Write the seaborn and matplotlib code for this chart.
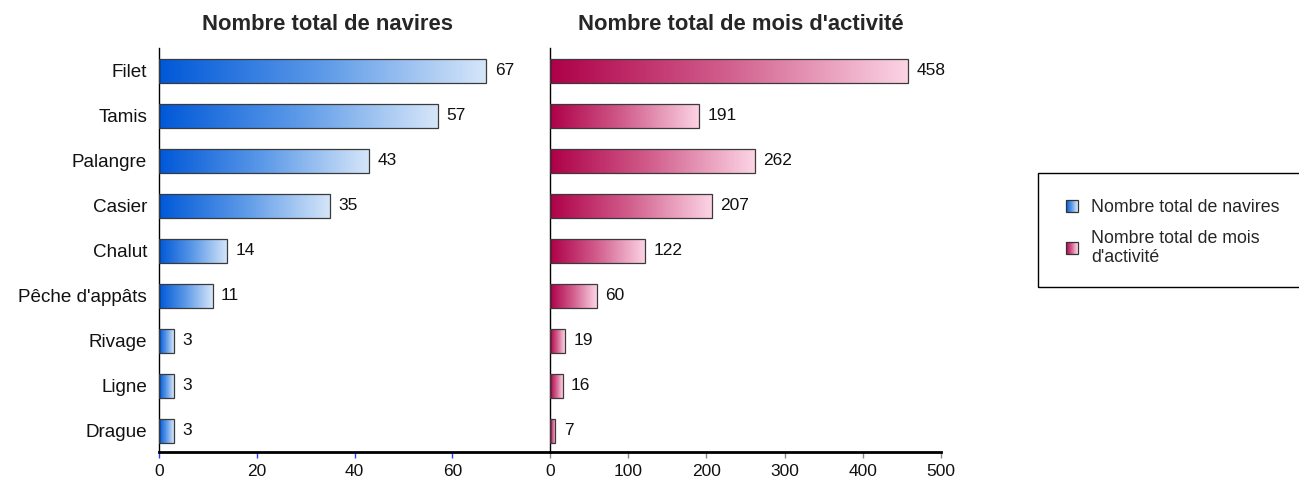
import numpy as np
import pandas as pd
import matplotlib
matplotlib.use("Agg")
import matplotlib.pyplot as plt
import seaborn as sns
from matplotlib.colors import LinearSegmentedColormap
from matplotlib.legend_handler import HandlerBase
from matplotlib.patches import Rectangle, Patch

# Data
engins = ["Filet", "Tamis", "Palangre", "Casier", "Chalut", "Pêche d'appâts",
          "Rivage", "Ligne", "Drague"]
navires = [67, 57, 43, 35, 14, 11, 3, 3, 3]
mois_activite = [458, 191, 262, 207, 122, 60, 19, 16, 7]

title_navires = "Nombre total de navires"
title_mois = "Nombre total de mois d'activité"

sns.set_theme(style="white")
plt.rcParams["font.family"] = ["Liberation Sans", "DejaVu Sans"]

cmap_blue = LinearSegmentedColormap.from_list(
    "bleu", ["#0058d8", "#5d9ae8", "#d6e6f9"])
cmap_pink = LinearSegmentedColormap.from_list(
    "rose", ["#ae0048", "#d2608e", "#fcd4e4"])

df = pd.DataFrame({"engin": engins, "navires": navires, "mois": mois_activite})

W, H = 1299, 483
fig = plt.figure(figsize=(W / 100, H / 100), dpi=100)
ax1 = fig.add_axes([159 / W, 31 / H, 391 / W, 404 / H])
ax2 = fig.add_axes([550 / W, 31 / H, 391 / W, 404 / H])

grad = np.linspace(0, 1, 256).reshape(1, -1)


def gradient_bars(ax, col, cmap, xmax, ticks, tick_color):
    sns.barplot(data=df, x=col, y="engin", ax=ax, orient="h", width=0.52,
                color="white", saturation=1)
    for p in ax.patches:
        x0, y0, w, h = p.get_x(), p.get_y(), p.get_width(), p.get_height()
        im = ax.imshow(grad, extent=[x0, x0 + w, y0 + h, y0], aspect="auto",
                       cmap=cmap, zorder=2, interpolation="bilinear")
        im.set_clip_path(p)
        p.set_facecolor("none")
        p.set_edgecolor("#3a3a3a")
        p.set_linewidth(0.9)
        p.set_zorder(3)
    ax.bar_label(ax.containers[0], padding=6, fontsize=12.5, color="#111111")
    ax.set_xlim(0, xmax)
    ax.set_ylim(8.47, -0.51)
    ax.set_xticks(ticks)
    ax.set_xlabel("")
    ax.set_ylabel("")
    for s in ["top", "right"]:
        ax.spines[s].set_visible(False)
    ax.spines["left"].set_color("black")
    ax.spines["left"].set_linewidth(1.0)
    ax.spines["bottom"].set_color("black")
    ax.spines["bottom"].set_linewidth(2.0)
    ax.tick_params(axis="x", bottom=True, length=4, width=1, color=tick_color,
                   labelsize=12.5, pad=5, labelcolor="#111111")
    ax.tick_params(axis="y", left=False, length=0, pad=8.5, labelsize=13.6,
                   labelcolor="#111111")


gradient_bars(ax1, "navires", cmap_blue, 80, [0, 20, 40, 60], "#2a3cff")
gradient_bars(ax2, "mois", cmap_pink, 500, [0, 100, 200, 300, 400, 500], "#888888")
ax2.set_yticklabels([])

fig.text(327 / W, 1 - 25 / H, title_navires, ha="center", va="center",
         fontsize=15.8, fontweight="bold")
fig.text(741 / W, 1 - 25 / H, title_mois, ha="center", va="center",
         fontsize=15.8, fontweight="bold")


class GradientHandler(HandlerBase):
    def __init__(self, cmap):
        super().__init__()
        self.cmap = cmap

    def create_artists(self, legend, orig_handle, xdescent, ydescent, width,
                       height, fontsize, trans):
        n = 24
        size = height
        x0, y0 = -xdescent, -ydescent
        arts = []
        for i in range(n):
            arts.append(Rectangle((x0 + i * size / n, y0), size / n, size,
                                  facecolor=self.cmap(i / (n - 1)),
                                  edgecolor="none", transform=trans))
        arts.append(Rectangle((x0, y0), size, size, fill=False,
                              edgecolor="#333333", linewidth=0.9,
                              transform=trans))
        return arts


h1 = Patch(label=title_navires)
h2 = Patch(label="Nombre total de mois\nd'activité")
fig.legend(handles=[h1, h2], loc="upper left",
           bbox_to_anchor=(1057 / W, 1 - 190 / H), frameon=False,
           fontsize=12.8, handlelength=0.65, handleheight=0.65,
           handletextpad=0.75, labelspacing=0.78, borderpad=0,
           handler_map={h1: GradientHandler(cmap_blue),
                        h2: GradientHandler(cmap_pink)})
fig.patches.append(Rectangle((1038 / W, 1 - 287 / H), 300 / W, 114 / H,
                             transform=fig.transFigure, fill=False,
                             edgecolor="black", linewidth=1.0))

fig.savefig("out.png", dpi=100, facecolor="white")
